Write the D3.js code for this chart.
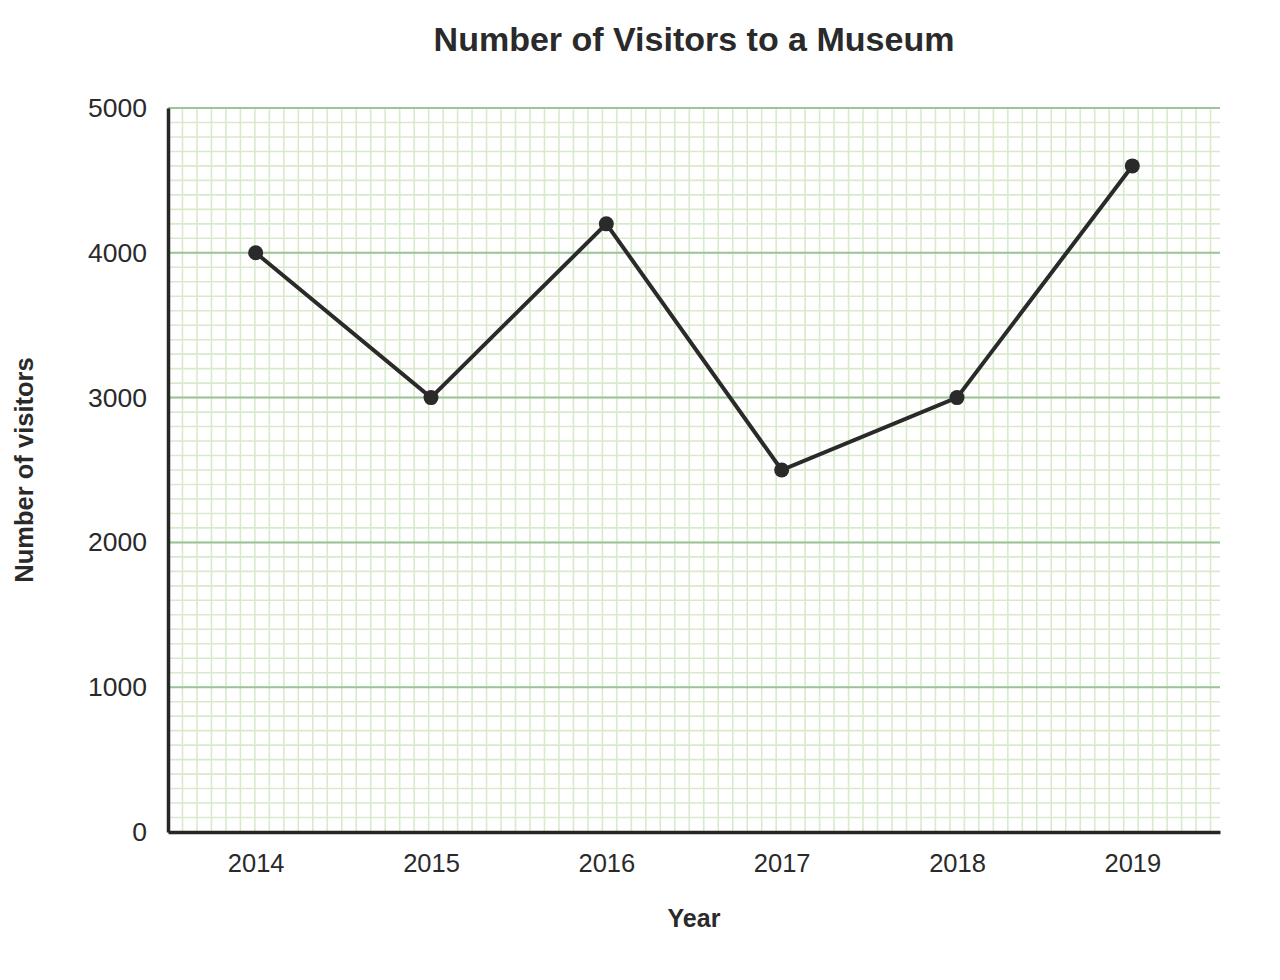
<!DOCTYPE html>
<html>
<head>
<meta charset="utf-8">
<script src="https://cdn.jsdelivr.net/npm/d3@7"></script>
<style>
  body { margin: 0; background: #fff; }
  text { font-family: "Liberation Sans", Arial, sans-serif; fill: #2a2a2a; }
</style>
</head>
<body>
<div id="chart"></div>
<script>
const years = ["2014", "2015", "2016", "2017", "2018", "2019"];
const visitors = [4000, 3000, 4200, 2500, 3000, 4600];
const yTicks = [0, 1000, 2000, 3000, 4000, 5000];

const width = 1280, height = 980;
const margin = { top: 108, right: 60, bottom: 148, left: 168 };
const w = width - margin.left - margin.right;
const h = height - margin.top - margin.bottom;

const svg = d3.select("#chart").append("svg")
  .attr("width", width)
  .attr("height", height);

const g = svg.append("g")
  .attr("transform", `translate(${margin.left},${margin.top})`);

const x = d3.scalePoint().domain(years).range([0, w]).padding(0.5);
const y = d3.scaleLinear().domain([0, 5000]).range([h, 0]);

// minor grid: square cells, size of 100 visitors
const cell = y(0) - y(100);
const minorY = d3.range(0, 5001, 100);
const minorX = d3.range(0, w + 0.01, cell);

g.append("g").selectAll("line.mx")
  .data(minorX)
  .join("line")
  .attr("x1", d => d).attr("x2", d => d)
  .attr("y1", 0).attr("y2", h)
  .attr("stroke", "#d8eacb")
  .attr("stroke-width", 1.6);

g.append("g").selectAll("line.my")
  .data(minorY)
  .join("line")
  .attr("x1", 0).attr("x2", w)
  .attr("y1", d => y(d)).attr("y2", d => y(d))
  .attr("stroke", "#d8eacb")
  .attr("stroke-width", 1.6);

// major grid
g.append("g").selectAll("line.major")
  .data(yTicks)
  .join("line")
  .attr("x1", 0).attr("x2", w)
  .attr("y1", d => y(d)).attr("y2", d => y(d))
  .attr("stroke", "#9cc39a")
  .attr("stroke-width", 2);

// axes
const yAxis = g.append("g")
  .call(d3.axisLeft(y).tickValues(yTicks).tickSize(0).tickPadding(21).tickFormat(d3.format("d")));
yAxis.select(".domain").attr("stroke", "#262626").attr("stroke-width", 3.5);
yAxis.selectAll("text").attr("font-size", 26.5).attr("fill", "#2a2a2a");

const xAxis = g.append("g")
  .attr("transform", `translate(0,${h})`)
  .call(d3.axisBottom(x).tickSize(0).tickPadding(22));
xAxis.select(".domain").attr("stroke", "#262626").attr("stroke-width", 3.5);
xAxis.selectAll("text").attr("font-size", 25.5).attr("fill", "#2a2a2a");

// line + points
const line = d3.line()
  .x((d, i) => x(years[i]))
  .y(d => y(d));

g.append("path")
  .datum(visitors)
  .attr("d", line)
  .attr("fill", "none")
  .attr("stroke", "#2a2a2a")
  .attr("stroke-width", 4);

g.selectAll("circle.pt")
  .data(visitors)
  .join("circle")
  .attr("class", "pt")
  .attr("cx", (d, i) => x(years[i]))
  .attr("cy", d => y(d))
  .attr("r", 7.5)
  .attr("fill", "#2a2a2a");

// titles
svg.append("text")
  .attr("x", margin.left + w / 2)
  .attr("y", 51)
  .attr("text-anchor", "middle")
  .attr("font-size", 34)
  .attr("font-weight", "bold")
  .text("Number of Visitors to a Museum");

svg.append("text")
  .attr("x", margin.left + w / 2)
  .attr("y", 927)
  .attr("text-anchor", "middle")
  .attr("font-size", 25)
  .attr("font-weight", "bold")
  .text("Year");

svg.append("text")
  .attr("transform", `translate(33,${margin.top + h / 2}) rotate(-90)`)
  .attr("text-anchor", "middle")
  .attr("font-size", 25.5)
  .attr("font-weight", "bold")
  .text("Number of visitors");
</script>
</body>
</html>
